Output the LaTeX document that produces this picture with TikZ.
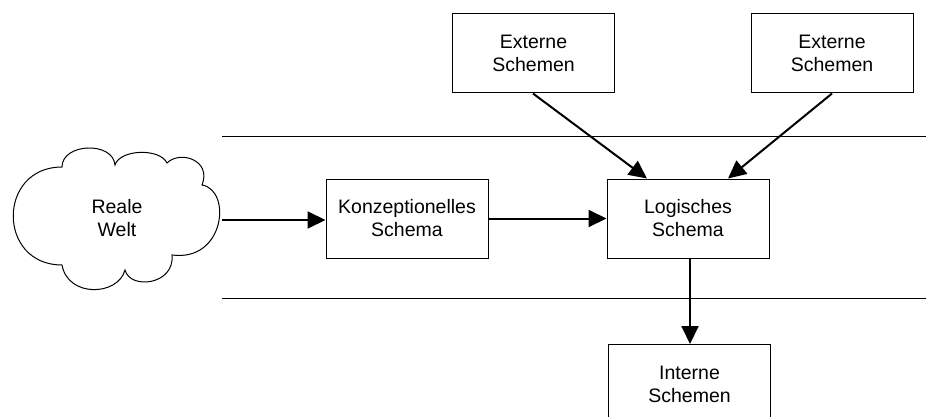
\documentclass[tikz,border=0pt]{standalone}
\usepackage{fontspec}
\setmainfont{Liberation Sans}
\usetikzlibrary{arrows.meta}
\begin{document}
\begin{tikzpicture}[x=1pt,y=-1pt,
  txt/.style={align=center,font=\fontsize{19.5}{23}\selectfont},
  box/.style={txt,draw,line width=1pt,minimum width=162pt,minimum height=79pt,inner sep=0pt},
  arr/.style={line width=2pt,-{Triangle[length=18pt,width=17pt]}},
  sep/.style={line width=1pt}]
\useasboundingbox (0,0) rectangle (926,417);
\node[box] (e1) at (533.5,53.5) {Externe\\Schemen};
\node[box] (e2) at (832,53.5) {Externe\\Schemen};
\node[box] (ks) at (407,218.5) {Konzeptionelles\\Schema};
\node[box] (ls) at (688,218.5) {Logisches\\Schema};
\node[box,anchor=north] (is) at (689.5,344) {Interne\\Schemen};
% cloud
\draw[line width=1pt] (62,167)
  .. controls (62,143) and (113,141) .. (115,165)
  .. controls (120,149) and (160,148) .. (167,163)
  .. controls (180,150) and (212,160) .. (202,185)
  .. controls (232,190) and (225,262) .. (172,255)
  .. controls (175,285) and (130,290) .. (125,270)
  .. controls (118,296) and (68,298) .. (62,265)
  .. controls (-3,265) and (-3,167) .. cycle;
\node[txt] (rw) at (117,218) {Reale\\Welt};
\coordinate (rwe) at (221.5,220);
\coordinate (l1a) at (222,137); \coordinate (l1b) at (926,137);
\coordinate (l2a) at (222,298.5); \coordinate (l2b) at (926,298.5);
\draw[sep] (l1a) -- (l1b);
\draw[sep] (l2a) -- (l2b);
\draw[arr] (rwe) -- (rwe -| ks.west);
\draw[arr] (ks.east) -- (ls.west);
\draw[arr] ([xshift=-0.5pt]e1.south) -- ([xshift=-41pt]ls.north);
\draw[arr] (e2.south) -- ([xshift=40pt]ls.north);
\draw[arr] ([xshift=2pt]ls.south) -- ([xshift=0.5pt]is.north);
\end{tikzpicture}
\end{document}
